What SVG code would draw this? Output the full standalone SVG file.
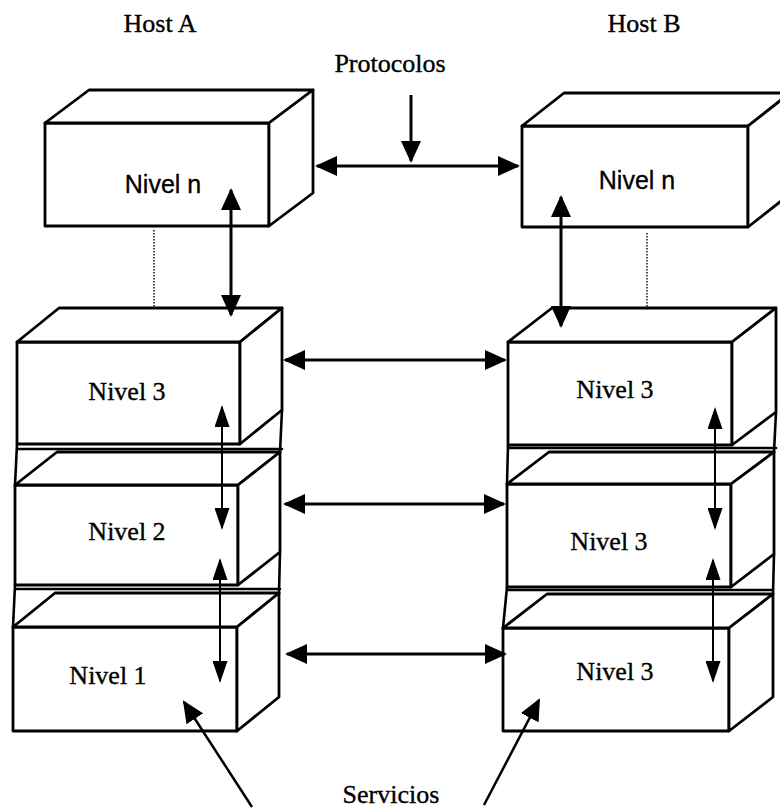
<svg xmlns="http://www.w3.org/2000/svg" width="780" height="812" viewBox="0 0 780 812">
  <style>
    .face { fill: #ffffff; stroke: #000000; stroke-width: 2.8; stroke-linejoin: round; }
    .edge { fill: none; stroke: #000000; stroke-width: 2.6; stroke-linecap: round; }
    .serif { font-family: "Liberation Serif", "Times New Roman", serif; font-size: 26px; fill: #000000; stroke: #000000; stroke-width: 0.35; text-anchor: middle; }
    .sans { font-family: "Liberation Sans", Arial, sans-serif; font-size: 25px; fill: #000000; stroke: #000000; stroke-width: 0.3; text-anchor: middle; }
    .thick { fill: none; stroke: #000000; stroke-width: 3; }
    .thin { fill: none; stroke: #000000; stroke-width: 2; }
    .pointer { fill: none; stroke: #000000; stroke-width: 2.5; }
    .dots { fill: none; stroke: #000000; stroke-width: 1.4; stroke-dasharray: 1.5 1.5; }
  </style>
  <defs>
    <marker id="head" viewBox="0 0 22 20" markerWidth="22" markerHeight="20" refX="20" refY="10" orient="auto-start-reverse" markerUnits="userSpaceOnUse">
      <path d="M0,0 L22,10 L0,20 z" fill="#000000"/>
    </marker>
    <marker id="headSmall" viewBox="0 0 22 15" markerWidth="22" markerHeight="15" refX="20" refY="7.5" orient="auto-start-reverse" markerUnits="userSpaceOnUse">
      <path d="M0,0 L22,7.5 L0,15 z" fill="#000000"/>
    </marker>
  </defs>

  <rect x="0" y="0" width="780" height="812" fill="#ffffff"/>

  <!-- titles -->
  <text class="serif" x="160" y="32">Host A</text>
  <text class="serif" x="644" y="32">Host B</text>
  <text class="serif" x="390" y="72">Protocolos</text>
  <text class="serif" x="391" y="803">Servicios</text>

  <!-- joints between stacked layers -->
  <g id="stack-joints">
    <path class="edge" d="M17,444 L15,485 M15,585 L13,627 M17,449 H282 M15,589 H280 M282,410 L280,452 M280,552 L279,593"/>
    <path class="edge" d="M508,445 L507,484 M507,587 L503,628 M508,448 H776 M507,590 H773 M776,412 L774,452 M774,554 L773,594"/>
  </g>

  <!-- Host A -->
  <g id="a-nivel-n">
    <polygon class="face" points="45,123 269,123 269,226 45,226"/>
    <polygon class="face" points="45,123 89,90 313,90 269,123"/>
    <polygon class="face" points="269,123 313,90 313,193 269,226"/>
    <text class="sans" x="163" y="193">Nivel n</text>
  </g>
  <g id="a-nivel-3">
    <polygon class="face" points="17,342 240,342 240,444 17,444"/>
    <polygon class="face" points="17,342 59,308 282,308 240,342"/>
    <polygon class="face" points="240,342 282,308 282,410 240,444"/>
    <text class="serif" x="127" y="400">Nivel 3</text>
  </g>
  <g id="a-nivel-2">
    <polygon class="face" points="15,485 238,485 238,585 15,585"/>
    <polygon class="face" points="15,485 57,452 280,452 238,485"/>
    <polygon class="face" points="238,485 280,452 280,552 238,585"/>
    <text class="serif" x="127" y="540">Nivel 2</text>
  </g>
  <g id="a-nivel-1">
    <polygon class="face" points="13,627 237,627 237,731 13,731"/>
    <polygon class="face" points="13,627 55,593 279,593 237,627"/>
    <polygon class="face" points="237,627 279,593 279,697 237,731"/>
    <text class="serif" x="108" y="684">Nivel 1</text>
  </g>

  <!-- Host B -->
  <g id="b-nivel-n">
    <polygon class="face" points="522,126 748,126 748,227 522,227"/>
    <polygon class="face" points="522,126 564,93 790,93 748,126"/>
    <polygon class="face" points="748,126 790,93 790,194 748,227"/>
    <text class="sans" x="637" y="189">Nivel n</text>
  </g>
  <g id="b-nivel-3-top">
    <polygon class="face" points="508,342 732,342 732,445 508,445"/>
    <polygon class="face" points="508,342 552,308 776,308 732,342"/>
    <polygon class="face" points="732,342 776,308 776,412 732,445"/>
    <text class="serif" x="615" y="398">Nivel 3</text>
  </g>
  <g id="b-nivel-3-mid">
    <polygon class="face" points="507,484 731,484 731,587 507,587"/>
    <polygon class="face" points="507,484 549,452 774,452 731,484"/>
    <polygon class="face" points="731,484 774,452 774,554 731,587"/>
    <text class="serif" x="609" y="550">Nivel 3</text>
  </g>
  <g id="b-nivel-3-bottom">
    <polygon class="face" points="503,628 729,628 729,731 503,731"/>
    <polygon class="face" points="503,628 547,594 773,594 729,628"/>
    <polygon class="face" points="729,628 773,594 773,697 729,731"/>
    <text class="serif" x="615" y="680">Nivel 3</text>
  </g>

  <!-- connectors -->
  <g id="connectors">
    <!-- dotted links between level n and level 3 -->
    <line class="dots" x1="154" y1="230" x2="154" y2="307"/>
    <line class="dots" x1="647" y1="233" x2="647" y2="310"/>

    <!-- protocol pointer and peer-to-peer arrows -->
    <line class="thick" x1="411" y1="95" x2="411" y2="161" marker-end="url(#head)"/>
    <line class="thick" x1="317" y1="166" x2="518" y2="166" marker-start="url(#head)" marker-end="url(#head)"/>
    <line class="thick" x1="285" y1="360" x2="505" y2="360" marker-start="url(#head)" marker-end="url(#head)"/>
    <line class="thick" x1="285" y1="504" x2="504" y2="504" marker-start="url(#head)" marker-end="url(#head)"/>
    <line class="thick" x1="287" y1="654" x2="505" y2="654" marker-start="url(#head)" marker-end="url(#head)"/>

    <!-- level n to level 3 -->
    <line class="thick" x1="231" y1="190" x2="231" y2="315" marker-start="url(#head)" marker-end="url(#head)"/>
    <line class="thick" x1="561" y1="197" x2="561" y2="326" marker-start="url(#head)" marker-end="url(#head)"/>

    <!-- interfaces between adjacent levels -->
    <line class="thin" x1="222" y1="407" x2="222" y2="528" marker-start="url(#headSmall)" marker-end="url(#headSmall)"/>
    <line class="thin" x1="220" y1="560" x2="220" y2="681" marker-start="url(#headSmall)" marker-end="url(#headSmall)"/>
    <line class="thin" x1="715" y1="409" x2="715" y2="528" marker-start="url(#headSmall)" marker-end="url(#headSmall)"/>
    <line class="thin" x1="713" y1="560" x2="713" y2="681" marker-start="url(#headSmall)" marker-end="url(#headSmall)"/>

    <!-- service pointers -->
    <line class="pointer" x1="252" y1="807" x2="184" y2="702" marker-end="url(#head)"/>
    <line class="pointer" x1="484" y1="805" x2="539" y2="700" marker-end="url(#head)"/>
  </g>
</svg>
